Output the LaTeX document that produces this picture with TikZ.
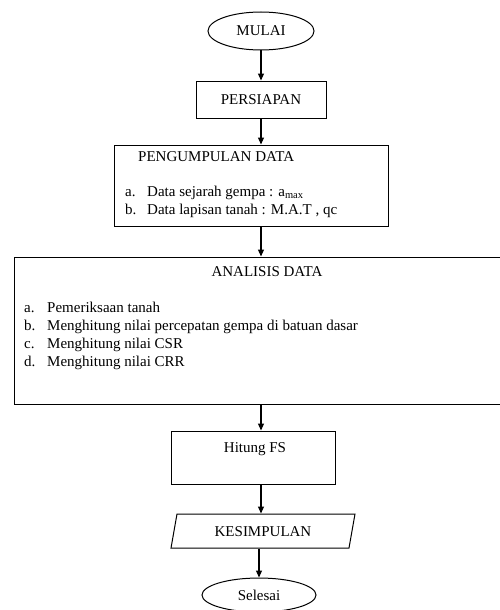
\documentclass[tikz,border=0pt]{standalone}
\usepackage{fontspec}
\setmainfont{Liberation Serif}
\usetikzlibrary{shapes.geometric,arrows.meta}

\begin{document}
\begin{tikzpicture}[x=1pt,y=-1pt,font=\fontsize{15}{18}\selectfont,
    box/.style={draw,line width=1pt,inner sep=0pt},
    txt/.style={inner sep=0pt},
    flow/.style={-{Triangle[length=7pt,width=6pt]},line width=1.2pt}]
    \useasboundingbox (0,0) rectangle (499,610);

    \node[box,ellipse,minimum width=106pt,minimum height=38pt] (mulai) at
    (261,31) {MULAI};

    \node[box,minimum width=130pt,minimum height=37pt] (persiapan) at
    (261,99.5) {PERSIAPAN};

    \node[box,minimum width=274pt,minimum height=81pt] (kumpul) at
    (251,185.5) {}; \node[txt,anchor=west] (kumpulT) at (138,157)
    {PENGUMPULAN DATA};
    \node[txt,anchor=west] (kumpulL) at (125,201.5)
    {\begin{tabular}{@{}p{22pt}@{}l@{}}
        a. & Data sejarah gempa : a\textsubscript{max}\\
        b. & Data lapisan tanah : M.A.T , qc
      \end{tabular}};

    \node[box,minimum width=492pt,minimum height=147pt] (analisis) at
    (260,330.5) {}; \node[txt] (analisisT) at (267,272) {ANALISIS DATA};
    \node[txt,anchor=west] (analisisL) at (24,335.5)
    {\begin{tabular}{@{}p{23pt}@{}l@{}}
        a. & Pemeriksaan tanah\\
        b. & Menghitung nilai percepatan gempa di batuan dasar\\
        c. & Menghitung nilai CSR\\
        d. & Menghitung nilai CRR
      \end{tabular}};

    \node[box,minimum width=164pt,minimum height=53pt] (hitung) at
    (253,457.5) {}; \node[txt] (hitungT) at (255,449) {Hitung FS};

    \node[box,trapezium,trapezium left angle=80,trapezium right angle=100,
    text width=172pt,align=center,text height=22pt,text depth=12pt]
    (kesimpulan) at (263,531) {KESIMPULAN};

    \node[box,ellipse,minimum width=114pt,minimum height=34pt] (selesai) at
    (259,595) {Selesai};

    \draw[flow] (mulai.south) -- (persiapan.north);
    \draw[flow] (persiapan.south) -- (persiapan.south |- kumpul.north);
    \draw[flow] (kumpul.south -| persiapan) -- (analisis.north -| persiapan);
    \draw[flow] (analisis.south -| persiapan) -- (hitung.north -| persiapan);
    \draw[flow] (hitung.south -| persiapan) -- (kesimpulan.north -| persiapan);
    \draw[flow] (kesimpulan.south -| selesai) -- (selesai.north);
  \end{tikzpicture}
\end{document}
